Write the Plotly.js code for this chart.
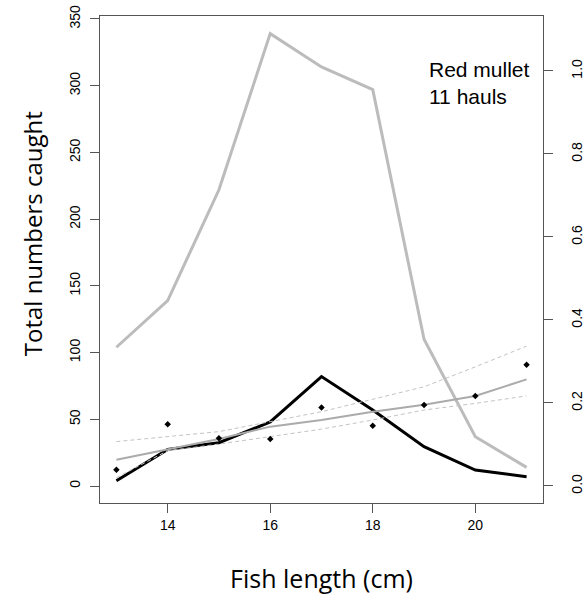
<!DOCTYPE html>
<html>
<head>
<meta charset="utf-8">
<script src="https://cdn.plot.ly/plotly-3.0.1.min.js"></script>
<style>html,body{margin:0;padding:0;background:#fff;}</style>
</head>
<body>
<div id="chart" style="width:587px;height:600px;"></div>
<script>
// Fish length classes (cm)
const lengths = [13, 14, 15, 16, 17, 18, 19, 20, 21];
// Total numbers caught (grey thick line, left axis)
const totalCaught = [104, 139, 222, 339, 314, 297, 110, 37, 14];
// Numbers retained (black thick line, left axis)
const retained = [4, 27.5, 32.5, 48, 82, 57, 29.5, 12, 7];
// Observed proportions (points, right axis)
const observedProp = [0.039, 0.149, 0.115, 0.113, 0.189, 0.145, 0.195, 0.217, 0.292];
// Fitted curve and confidence band (right axis)
const fittedProp = [0.063, 0.088, 0.113, 0.143, 0.159, 0.179, 0.196, 0.217, 0.257];
const upperCI = [0.107, 0.119, 0.131, 0.155, 0.179, 0.209, 0.239, 0.287, 0.337];
const lowerCI = [0.02, 0.085, 0.101, 0.119, 0.137, 0.159, 0.183, 0.199, 0.217];
// Tick labels
const leftTicks = [0, 50, 100, 150, 200, 250, 300, 350];
const rightTicks = [0, 0.2, 0.4, 0.6, 0.8, 1.0];
const rightTickText = ["0.0", "0.2", "0.4", "0.6", "0.8", "1.0"];
const xTicks = [14, 16, 18, 20];

const axisColor = "#555555";
const traces = [
  {x: lengths, y: totalCaught, type: "scatter", mode: "lines", yaxis: "y",
   line: {color: "#bcbcbc", width: 3}},
  {x: lengths, y: upperCI, type: "scatter", mode: "lines", yaxis: "y2",
   line: {color: "#c4c4c4", width: 1, dash: "4px,3px"}},
  {x: lengths, y: lowerCI, type: "scatter", mode: "lines", yaxis: "y2",
   line: {color: "#c4c4c4", width: 1, dash: "4px,3px"}},
  {x: lengths, y: fittedProp, type: "scatter", mode: "lines", yaxis: "y2",
   line: {color: "#ababab", width: 2}},
  {x: lengths, y: retained, type: "scatter", mode: "lines", yaxis: "y",
   line: {color: "#000000", width: 3}},
  {x: lengths, y: observedProp, type: "scatter", mode: "markers", yaxis: "y2",
   marker: {color: "#000000", size: 5, symbol: "diamond"}}
];

const layout = {
  width: 587, height: 600,
  margin: {l: 100, r: 44, t: 16, b: 97, pad: 0},
  paper_bgcolor: "#ffffff", plot_bgcolor: "#ffffff",
  showlegend: false,
  font: {family: "Liberation Sans, Arial, sans-serif", color: "#000"},
  xaxis: {
    range: [12.68, 21.32], tickvals: xTicks, ticks: "outside", ticklen: 9,
    tickcolor: axisColor, tickwidth: 1, showgrid: false, zeroline: false,
    showline: true, linecolor: axisColor, linewidth: 1, mirror: true,
    tickfont: {size: 14, family: "Liberation Sans, Arial, sans-serif"},
    title: {text: "Fish length (cm)", standoff: 38,
            font: {size: 25, family: "Open Sans, Noto Sans, sans-serif"}}
  },
  yaxis: {
    range: [-12.7, 352.2], tickvals: leftTicks, ticks: "outside", ticklen: 9,
    tickcolor: axisColor, showgrid: false, zeroline: false,
    showline: true, linecolor: axisColor, linewidth: 1,
    ticklabelstandoff: 4,
    tickangle: -90, tickfont: {size: 14, family: "Liberation Sans, Arial, sans-serif"}
  },
  yaxis2: {
    range: [-0.041, 1.1325], tickvals: rightTicks, ticktext: rightTickText,
    overlaying: "y", side: "right", ticks: "outside", ticklen: 9,
    tickcolor: axisColor, showgrid: false, zeroline: false,
    showline: true, linecolor: axisColor, linewidth: 1,
    ticklabelstandoff: 12,
    tickangle: -90, tickfont: {size: 14, family: "Liberation Sans, Arial, sans-serif"}
  },
  annotations: [{
    xref: "paper", yref: "paper", x: 0.738, y: 0.918,
    xanchor: "left", yanchor: "top", align: "left", showarrow: false,
    text: "Red mullet<br>11 hauls",
    font: {size: 21, family: "Liberation Sans, Arial, sans-serif", color: "#000"}
  }, {
    xref: "paper", yref: "paper", x: -0.1535, y: 0.554,
    xanchor: "center", yanchor: "middle", showarrow: false, textangle: -90,
    text: "Total numbers caught",
    font: {size: 24, family: "Open Sans, Noto Sans, sans-serif", color: "#000"}
  }]
};

Plotly.newPlot("chart", traces, layout, {displayModeBar: false, staticPlot: true});
</script>
</body>
</html>
